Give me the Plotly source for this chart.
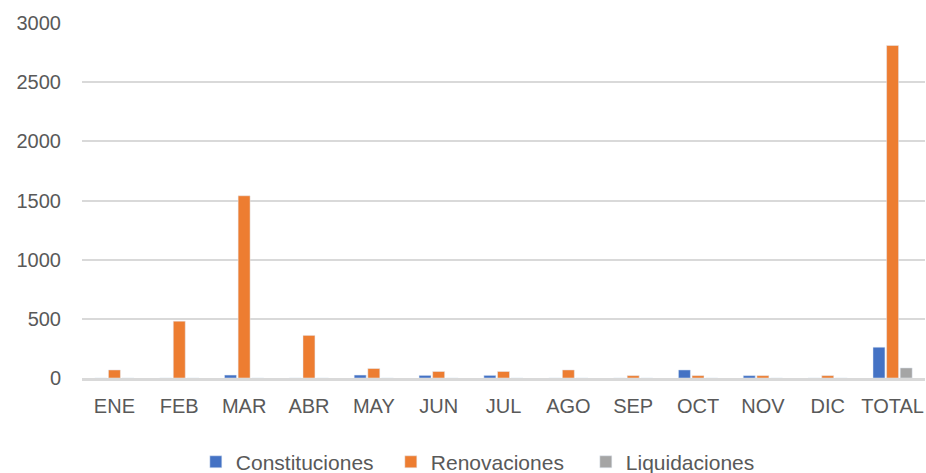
import plotly.graph_objects as go

meses = ["ENE", "FEB", "MAR", "ABR", "MAY", "JUN", "JUL", "AGO", "SEP", "OCT", "NOV", "DIC", "TOTAL"]
constituciones = [0, 0, 25, 0, 25, 22, 22, 0, 0, 68, 20, 0, 260]
renovaciones = [68, 480, 1540, 360, 80, 55, 55, 68, 20, 20, 20, 20, 2810]
liquidaciones = [0, 0, 0, 0, 0, 0, 0, 0, 0, 0, 0, 0, 85]

fig = go.Figure()
fig.add_trace(go.Bar(x=meses, y=constituciones, name="Constituciones", marker_color="#4472C4"))
fig.add_trace(go.Bar(x=meses, y=renovaciones, name="Renovaciones", marker_color="#ED7D31"))
fig.add_trace(go.Bar(x=meses, y=liquidaciones, name="Liquidaciones", marker_color="#A5A5A5"))

fig.update_layout(
    width=926, height=473,
    margin=dict(l=82, r=1, t=23, b=95, autoexpand=False),
    plot_bgcolor="white", paper_bgcolor="white",
    barmode="group", bargap=0.37, bargroupgap=0.12,
    font=dict(family="Liberation Sans, Arial", size=20, color="#595959"),
    legend=dict(orientation="h", x=0.482, xanchor="center", y=-0.237, yanchor="middle",
                font=dict(size=21), itemwidth=30, entrywidth=150),
)
fig.update_xaxes(showgrid=False, showline=True, linecolor="#D9D9D9", linewidth=2.5,
                 ticks="", automargin=False, ticklabelstandoff=8)
fig.update_yaxes(range=[0, 3000], dtick=500, gridcolor="#D9D9D9", gridwidth=1.5, zeroline=False,
                 ticks="", ticklabelstandoff=20, automargin=False)

# page body has an 8px default margin, drop it so the figure fills the window
fig.write_html("out.html", config={"displayModeBar": False},
               post_script="document.body.style.margin='0';")
